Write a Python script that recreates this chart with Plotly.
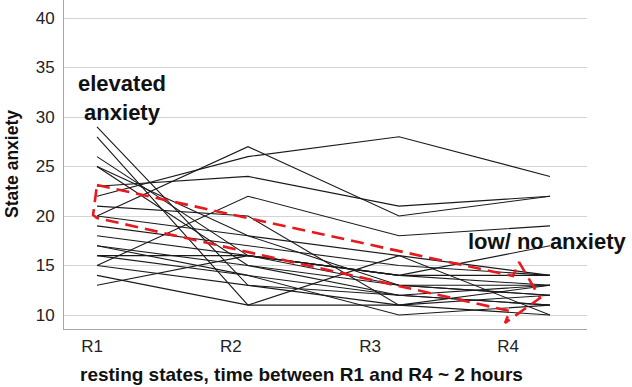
import plotly.graph_objects as go

# ---- data -------------------------------------------------------------
categories = ["R1", "R2", "R3", "R4"]
subject_scores = [
    [20, 27, 20, 22],
    [22, 26, 28, 24],
    [23, 24, 21, 22],
    [15, 22, 18, 19],
    [29, 13, 12, 11],
    [28, 11, 11, 12],
    [26, 16, 14, 14],
    [25, 18, 16, 10],
    [25, 15, 13, 13],
    [21, 20, 11, 13],
    [19, 17, 15, 14],
    [18, 16, 13, 12],
    [17, 15, 12, 11],
    [16, 16, 14, 17],
    [16, 14, 12, 13],
    [15, 13, 11, 10],
    [14, 11, 16, 14],
    [13, 16, 14, 13],
    [17, 14, 10, 11],
    [20, 18, 13, 12],
]
y_ticks = [10, 15, 20, 25, 30, 35, 40]
# hand-drawn trend arrow outline (in axis units: x = resting-state index)
arrow_x = [0.0, 2.755, 2.795, 2.934, 2.702, 2.735, 0.0, -0.026, 0.0]
arrow_y = [23.13, 13.94, 15.35, 11.72, 9.19, 10.40, 19.80, 20.10, 23.13]

x_idx = list(range(len(categories)))

fig = go.Figure()
for s in subject_scores:
    fig.add_trace(go.Scatter(
        x=x_idx, y=s, mode="lines",
        line=dict(color="#1a1a1a", width=1.1),
        showlegend=False, hoverinfo="skip"))

fig.add_trace(go.Scatter(
    x=arrow_x, y=arrow_y, mode="lines",
    line=dict(color="#e8191d", width=2.6, dash="13px,7px"),
    showlegend=False, hoverinfo="skip"))

FONT = "Liberation Sans, Arial, sans-serif"

# category labels sit slightly left of the line vertices in the original
label_pos = [-0.033, 0.887, 1.808, 2.722]

fig.update_layout(
    width=632, height=387,
    margin=dict(l=64, r=45, t=0, b=58),
    paper_bgcolor="white", plot_bgcolor="white",
    font=dict(family=FONT, color="#222222"),
    xaxis=dict(
        range=[-0.2185, 3.245], tickvals=label_pos, ticktext=categories,
        showgrid=False, zeroline=False, showline=True,
        linecolor="#a6a6a6", linewidth=1, ticks="",
        tickfont=dict(size=17, color="#222222"), ticklabelstandoff=2),
    yaxis=dict(
        range=[8.586, 41.82], tickvals=y_ticks,
        showgrid=True, gridcolor="#d4d4d4", gridwidth=1, zeroline=False,
        showline=True, linecolor="#a6a6a6", linewidth=1, ticks="",
        tickfont=dict(size=17, color="#222222"), ticklabelstandoff=5),
    annotations=[
        dict(text="<b>elevated<br>anxiety</b>", xref="x", yref="y",
             x=0.166, y=31.9, xanchor="center", yanchor="middle",
             showarrow=False, align="center",
             font=dict(size=22, color="#111111", family=FONT)),
        dict(text="<b>low/ no anxiety</b>", xref="x", yref="y",
             x=2.98, y=17.47, xanchor="center", yanchor="middle",
             showarrow=False, font=dict(size=22, color="#111111", family=FONT)),
        dict(text="<b>State anxiety</b>", xref="paper", yref="paper",
             x=0, y=0.5015, xshift=-52, textangle=-90,
             xanchor="center", yanchor="middle", showarrow=False,
             font=dict(size=17.5, color="#111111", family=FONT)),
        dict(text="<b>resting states, time between R1 and R4 ~ 2 hours</b>",
             xref="paper", yref="paper", x=0.454, y=0, yshift=-45,
             xanchor="center", yanchor="middle", showarrow=False,
             font=dict(size=19, color="#111111", family=FONT)),
    ],
)

fig.write_html("out.html", config={"displayModeBar": False},
               post_script="document.body.style.margin='0px';")
